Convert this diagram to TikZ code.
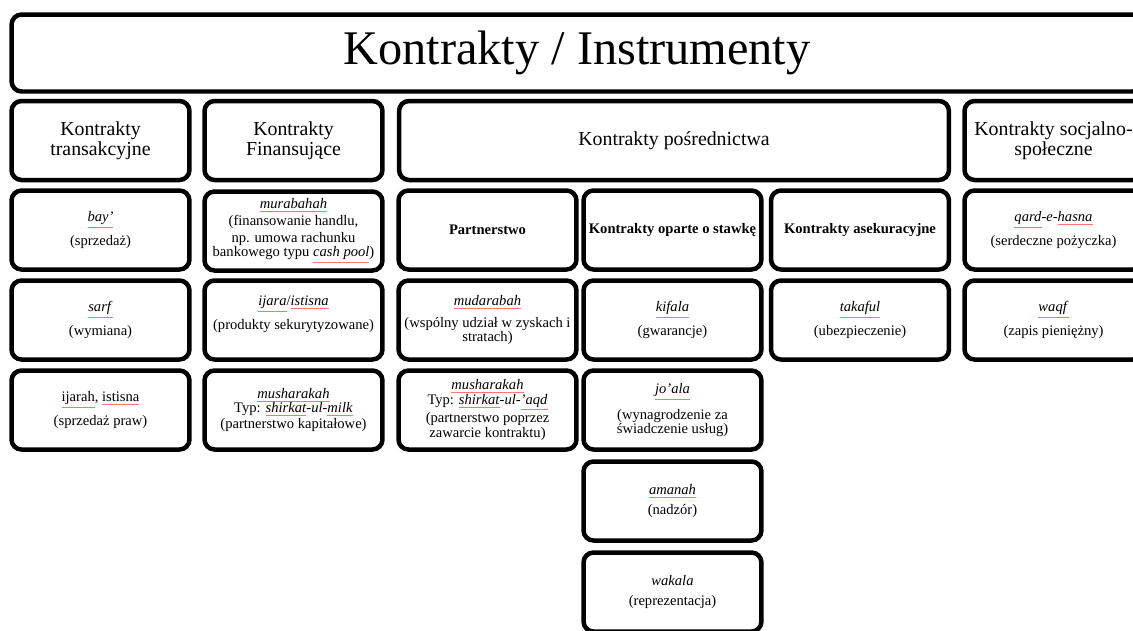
\documentclass[tikz,border=0pt]{standalone}
\usepackage{fontspec}
\setmainfont{Liberation Serif}
\usetikzlibrary{positioning}
% faint spell-check underline, as in the source picture
\newcommand{\redul}[1]{{\color{red!55}\underline{\color{black}#1}}}
\tikzset{
  kbox/.style={draw, line width=0.09cm, rounded corners=0.2cm, minimum width=3.56cm, minimum height=1.58cm, align=center, inner sep=1pt, font=\fontsize{8.3}{8.2}\selectfont},
  khead/.style={kbox, font=\fontsize{11.3}{11.6}\selectfont},
  kbold/.style={kbox, font=\fontsize{8.3}{8.2}\selectfont\bfseries},
}

\begin{document}
\begin{tikzpicture}[x=0.02cm, y=-0.02cm]
\useasboundingbox (0,0) rectangle (1133,630);

% title
\node[kbox, minimum width=22.62cm, minimum height=1.54cm, font=\fontsize{27.5}{30}\selectfont] (title) at (577,53) {Kontrakty / Instrumenty};

% headers
\node[khead] (trans) at (100.5,140.5) {Kontrakty\\transakcyjne};
\node[khead] (fin) at (293.5,140.5) {Kontrakty\\Finansujące};
\node[khead, minimum width=11cm] (posr) at (674,140.5) {Kontrakty pośrednictwa};
\node[khead] (socj) at (1053.5,140.5) {Kontrakty socjalno-\\społeczne};

% transakcyjne
\node[kbox] (bay) at (100.5,230) {\redul{\textit{bay’}}\\[3pt](sprzedaż)};
\node[kbox] (sarf) at (100.5,320) {\redul{\textit{sarf}}\\[3pt](wymiana)};
\node[kbox] (ijarah) at (100.5,410) {\redul{ijarah}, \redul{istisna}\\[3pt](sprzedaż praw)};

% finansujace
\node[kbox] (murab) at (293.5,231) {\redul{\textit{murabahah}}\\[1.5pt](finansowanie handlu,\\[1pt]np. umowa rachunku\\bankowego typu \redul{\textit{cash pool}})};
\node[kbox] (ijara) at (293.5,320) {\redul{\textit{ijara}}/\redul{\textit{istisna}}\\[3pt](produkty sekurytyzowane)\\~};
\node[kbox] (mushA) at (293.5,410) {\redul{\textit{musharakah}}\\Typ: \redul{\textit{shirkat}}-\textit{ul}-\redul{\textit{milk}}\\[1pt](partnerstwo kapitałowe)};

% posrednictwa
\node[kbold] (partn) at (487.5,230) {Partnerstwo};
\node[kbold] (stawka) at (672.5,230) {Kontrakty oparte o stawkę};
\node[kbold] (asek) at (860,230) {Kontrakty asekuracyjne};

\node[kbox] (mudar) at (487.5,320) {\redul{\textit{mudarabah}}\\[4pt](wspólny udział w zyskach i\\stratach)};
\node[kbox] (mushB) at (487.5,410) {\redul{\textit{musharakah}}\\Typ: \redul{\textit{shirkat}}-\textit{ul}-\redul{\textit{’aqd}}\\(partnerstwo poprzez\\zawarcie kontraktu)};

\node[kbox] (kifala) at (672.5,320) {\redul{\textit{kifala}}\\[3pt](gwarancje)};
\node[kbox] (joala) at (672.5,410) {\redul{\textit{jo’ala}}\\[4pt](wynagrodzenie za\\świadczenie usług)};
\node[kbox] (amanah) at (672.5,501) {\redul{\textit{amanah}}\\[3pt](nadzór)};
\node[kbox] (wakala) at (672.5,592) {\textit{wakala}\\[3pt](reprezentacja)};

\node[kbox] (takaful) at (860,320) {\redul{\textit{takaful}}\\[3pt](ubezpieczenie)};

% socjalno-spoleczne
\node[kbox] (qard) at (1053.5,230) {\redul{\textit{qard}}-\textit{e}-\redul{\textit{hasna}}\\[3pt](serdeczne pożyczka)};
\node[kbox] (waqf) at (1053.5,320) {\redul{\textit{waqf}}\\[3pt](zapis pieniężny)};
\end{tikzpicture}
\end{document}
